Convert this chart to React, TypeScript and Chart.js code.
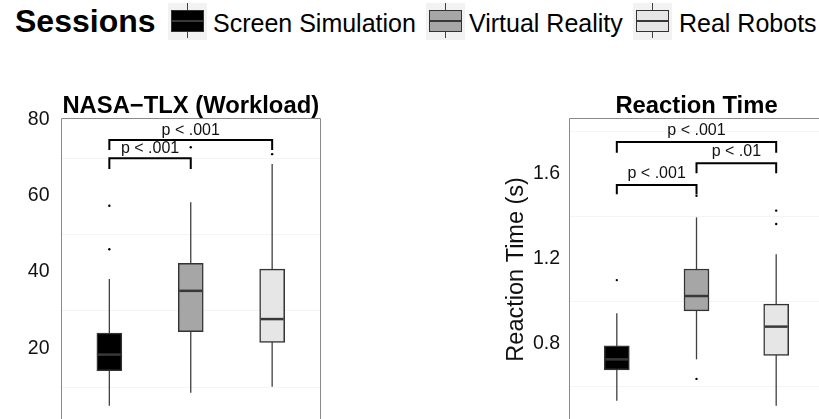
import React, { useEffect, useRef } from 'react';
import { Chart, registerables } from 'chart.js';

Chart.register(...registerables);

// ---------- data ----------
const SESSIONS = ['Screen Simulation', 'Virtual Reality', 'Real Robots'];
const SESSION_X = [1, 2, 3];

// NASA-TLX (Workload)
const TLX_LOW = [5.0, 8.4, 10.0];
const TLX_Q1 = [14.2, 24.4, 21.6];
const TLX_MEDIAN = [18.4, 35.1, 27.7];
const TLX_Q3 = [24.0, 42.3, 40.8];
const TLX_HIGH = [38.2, 58.3, 68.3];
const TLX_OUTLIERS = [[46.0, 57.4], [72.7], [70.9]];
const TLX_TICKS = [20, 40, 60, 80];
const TLX_GRID = [10, 30, 50, 70];
const TLX_BRACKET_FROM = [1, 1];
const TLX_BRACKET_TO = [2, 3];
const TLX_BRACKET_Y = [69.8, 74.6];
const TLX_BRACKET_TIP = [67.0, 72.0];
const TLX_BRACKET_LABEL = ['p < .001', 'p < .001'];

// Reaction Time (s)
const RT_LOW = [0.529, 0.724, 0.506];
const RT_Q1 = [0.674, 0.952, 0.743];
const RT_MEDIAN = [0.724, 1.022, 0.878];
const RT_Q3 = [0.788, 1.149, 0.984];
const RT_HIGH = [0.941, 1.392, 1.218];
const RT_OUTLIERS = [[1.097], [0.632, 1.494], [1.361, 1.424]];
const RT_TICKS = [0.8, 1.2, 1.6];
const RT_GRID = [0.6, 1.0, 1.4, 1.8];
const RT_BRACKET_FROM = [1, 2, 1];
const RT_BRACKET_TO = [2, 3, 3];
const RT_BRACKET_Y = [1.544, 1.647, 1.747];
const RT_BRACKET_TIP = [1.501, 1.6, 1.696];
const RT_BRACKET_LABEL = ['p < .001', 'p < .01', 'p < .001'];

// ---------- styles ----------
const FONT = '"Liberation Sans", Arial, Helvetica, sans-serif';
const FILLS = ['#000000', '#a6a6a6', '#e6e6e6'];
const BOX_BORDER = '#333333';
const MEDIAN_COLOR = '#383838';
const WHISKER_COLOR = '#404040';
const GRID_COLOR = '#f4f4f4';
const PANEL_BORDER = '#8a8a8a';
const TEXT_COLOR = '#111111';
const BOX_WIDTH = 25;

type Panel = {
  title: string;
  yTitle?: string;
  low: number[]; q1: number[]; median: number[]; q3: number[]; high: number[];
  outliers: number[][];
  ticks: number[]; grid: number[];
  bFrom: number[]; bTo: number[]; bY: number[]; bTip: number[]; bLabel: string[];
  min: number; max: number; decimals: number;
  canvasWidth: number; padding: { top: number; right: number; bottom: number; left: number };
  yWidth: number; tickPad: number; labelLift: number;
};

const TLX_PANEL: Panel = {
  title: 'NASA\u2212TLX (Workload)',
  low: TLX_LOW, q1: TLX_Q1, median: TLX_MEDIAN, q3: TLX_Q3, high: TLX_HIGH,
  outliers: TLX_OUTLIERS, ticks: TLX_TICKS, grid: TLX_GRID,
  bFrom: TLX_BRACKET_FROM, bTo: TLX_BRACKET_TO, bY: TLX_BRACKET_Y, bTip: TLX_BRACKET_TIP, bLabel: TLX_BRACKET_LABEL,
  min: 1.0, max: 80.5, decimals: 0,
  canvasWidth: 340, padding: { top: 117.5, right: 19, bottom: 9, left: 0 },
  yWidth: 60.5, tickPad: 11, labelLift: 5.5,
};

const RT_PANEL: Panel = {
  title: 'Reaction Time',
  yTitle: 'Reaction Time (s)',
  low: RT_LOW, q1: RT_Q1, median: RT_MEDIAN, q3: RT_Q3, high: RT_HIGH,
  outliers: RT_OUTLIERS, ticks: RT_TICKS, grid: RT_GRID,
  bFrom: RT_BRACKET_FROM, bTo: RT_BRACKET_TO, bY: RT_BRACKET_Y, bTip: RT_BRACKET_TIP, bLabel: RT_BRACKET_LABEL,
  min: 0.434, max: 1.861, decimals: 1,
  canvasWidth: 420, padding: { top: 117.7, right: 16, bottom: 9, left: 0 },
  yWidth: 149, tickPad: 9, labelLift: 7,
};

function makeExtras(p: Panel) {
  return {
    id: 'boxExtras',
    beforeDatasetsDraw(chart: any) {
      const { ctx, chartArea: ca, scales } = chart;
      const x = scales.x, y = scales.y;
      ctx.save();
      ctx.strokeStyle = GRID_COLOR;
      ctx.lineWidth = 1;
      for (const v of p.grid) {
        const py = Math.round(y.getPixelForValue(v)) + 0.5;
        ctx.beginPath(); ctx.moveTo(ca.left, py); ctx.lineTo(ca.right, py); ctx.stroke();
      }
      ctx.strokeStyle = WHISKER_COLOR;
      ctx.lineWidth = 1.3;
      p.low.forEach((lo, i) => {
        const px = x.getPixelForValue(SESSION_X[i]);
        ctx.beginPath();
        ctx.moveTo(px, y.getPixelForValue(lo));
        ctx.lineTo(px, y.getPixelForValue(p.high[i]));
        ctx.stroke();
      });
      ctx.restore();
    },
    afterDatasetsDraw(chart: any) {
      const { ctx, scales } = chart;
      const x = scales.x, y = scales.y;
      ctx.save();
      ctx.strokeStyle = MEDIAN_COLOR;
      ctx.lineWidth = 2.5;
      p.median.forEach((m, i) => {
        const px = x.getPixelForValue(SESSION_X[i]);
        const py = y.getPixelForValue(m);
        ctx.beginPath();
        ctx.moveTo(px - BOX_WIDTH / 2 + 1, py);
        ctx.lineTo(px + BOX_WIDTH / 2 - 1, py);
        ctx.stroke();
      });
      ctx.restore();
    },
    afterDraw(chart: any) {
      const { ctx, chartArea: ca, scales } = chart;
      const x = scales.x, y = scales.y;
      ctx.save();
      // panel border
      ctx.strokeStyle = PANEL_BORDER;
      ctx.lineWidth = 1;
      const l = Math.round(ca.left) + 0.5, r = Math.round(ca.right) - 0.5, t = Math.round(ca.top) + 0.5;
      ctx.beginPath();
      ctx.moveTo(l, ca.bottom + 20); ctx.lineTo(l, t); ctx.lineTo(r, t); ctx.lineTo(r, ca.bottom + 20);
      ctx.stroke();
      // significance brackets
      ctx.strokeStyle = '#000000';
      ctx.lineWidth = 2;
      ctx.lineJoin = 'miter';
      ctx.fillStyle = TEXT_COLOR;
      ctx.font = `16px ${FONT}`;
      ctx.textAlign = 'center';
      ctx.textBaseline = 'alphabetic';
      p.bFrom.forEach((f, i) => {
        const x1 = x.getPixelForValue(f);
        const x2 = x.getPixelForValue(p.bTo[i]);
        const ly = y.getPixelForValue(p.bY[i]);
        const ty = y.getPixelForValue(p.bTip[i]);
        ctx.beginPath();
        ctx.moveTo(x1, ty); ctx.lineTo(x1, ly); ctx.lineTo(x2, ly); ctx.lineTo(x2, ty);
        ctx.stroke();
        ctx.fillText(p.bLabel[i], (x1 + x2) / 2, ly - p.labelLift);
      });
      // panel title
      ctx.fillStyle = '#000000';
      ctx.font = `bold 23.8px ${FONT}`;
      ctx.fillText(p.title, (ca.left + ca.right) / 2, ca.top - 5);
      ctx.restore();
    },
  };
}

function buildChart(canvas: HTMLCanvasElement, p: Panel) {
  const boxes = SESSION_X.map((sx, i) => ({ x: sx, y: [p.q1[i], p.q3[i]] }));
  const outliers: { x: number; y: number }[] = [];
  p.outliers.forEach((list, i) => list.forEach((v) => outliers.push({ x: SESSION_X[i], y: v })));
  const yTitle = p.yTitle
    ? {
        display: true,
        text: p.yTitle,
        color: TEXT_COLOR,
        font: { family: FONT, size: 23.5, lineHeight: 1.2 },
        padding: { top: 82.9, bottom: 0 },
      }
    : { display: false };
  return new Chart(canvas, {
    type: 'bar',
    data: {
      datasets: [
        {
          type: 'bar',
          label: 'box',
          data: boxes as any,
          backgroundColor: FILLS,
          borderColor: BOX_BORDER,
          borderWidth: 1.5,
          borderSkipped: false,
          barThickness: BOX_WIDTH,
          order: 2,
        } as any,
        {
          type: 'scatter',
          label: 'outliers',
          data: outliers,
          pointRadius: 1.2,
          pointBackgroundColor: '#000000',
          pointBorderWidth: 0,
          showLine: false,
          order: 1,
        } as any,
      ],
    },
    options: {
      responsive: false,
      animation: false,
      devicePixelRatio: 1,
      events: [],
      layout: { padding: p.padding },
      plugins: { legend: { display: false }, tooltip: { enabled: false }, title: { display: false } },
      scales: {
        x: { type: 'linear', min: 0.4, max: 3.6, display: false, offset: false },
        y: {
          type: 'linear',
          min: p.min,
          max: p.max,
          grid: { display: false, drawTicks: false },
          border: { display: false },
          title: yTitle as any,
          ticks: {
            color: TEXT_COLOR,
            padding: p.tickPad,
            font: { family: FONT, size: 19.5 },
            callback: (v: any) => Number(v).toFixed(p.decimals),
          },
          afterBuildTicks: (s: any) => {
            s.ticks = p.ticks.map((v) => ({ value: v }));
          },
          afterFit: (s: any) => {
            s.width = p.yWidth;
            s.paddingTop = 0;
            s.paddingBottom = 0;
          },
        } as any,
      },
    },
    plugins: [makeExtras(p)],
  } as any);
}

// ---------- legend (HTML) ----------
const LEGEND_KEY_LEFT = [168, 426, 633];
const LEGEND_TEXT_LEFT = [213, 469, 679];

function LegendKey({ left, fill }: { left: number; fill: string }) {
  return (
    <div style={{ position: 'absolute', left, top: 3, width: 39, height: 37, background: '#f2f2f2' }}>
      <div style={{ position: 'absolute', left: 19, top: 0, width: 1.3, height: 35, background: WHISKER_COLOR }} />
      <div
        style={{
          position: 'absolute', left: 3, top: 7, width: 33, height: 22, boxSizing: 'border-box',
          background: fill, border: `1.5px solid ${BOX_BORDER}`,
        }}
      />
      <div style={{ position: 'absolute', left: 4, top: 17, width: 31, height: 2, background: MEDIAN_COLOR }} />
    </div>
  );
}

function Legend() {
  return (
    <>
      <div style={{ position: 'absolute', left: 15, top: 4.6, fontSize: 32, lineHeight: '32px', fontWeight: 'bold', color: '#000', whiteSpace: 'nowrap' }}>
        Sessions
      </div>
      {SESSIONS.map((s, i) => (
        <React.Fragment key={s}>
          <LegendKey left={LEGEND_KEY_LEFT[i]} fill={FILLS[i]} />
          <div style={{ position: 'absolute', left: LEGEND_TEXT_LEFT[i], top: 10.8, fontSize: 25, lineHeight: '25px', color: '#000', whiteSpace: 'nowrap' }}>
            {s}
          </div>
        </React.Fragment>
      ))}
    </>
  );
}

export default function App() {
  const leftRef = useRef<HTMLCanvasElement>(null);
  const rightRef = useRef<HTMLCanvasElement>(null);
  useEffect(() => {
    const c1 = buildChart(leftRef.current as HTMLCanvasElement, TLX_PANEL);
    const c2 = buildChart(rightRef.current as HTMLCanvasElement, RT_PANEL);
    return () => {
      c1.destroy();
      c2.destroy();
    };
  }, []);
  return (
    <div style={{ position: 'absolute', left: 0, top: 0, width: 819, height: 419, overflow: 'hidden', background: '#ffffff', fontFamily: FONT }}>
      <Legend />
      <canvas ref={leftRef} width={TLX_PANEL.canvasWidth} height={430} style={{ position: 'absolute', left: 0, top: 0 }} />
      <canvas ref={rightRef} width={RT_PANEL.canvasWidth} height={430} style={{ position: 'absolute', left: 420, top: 0 }} />
    </div>
  );
}
